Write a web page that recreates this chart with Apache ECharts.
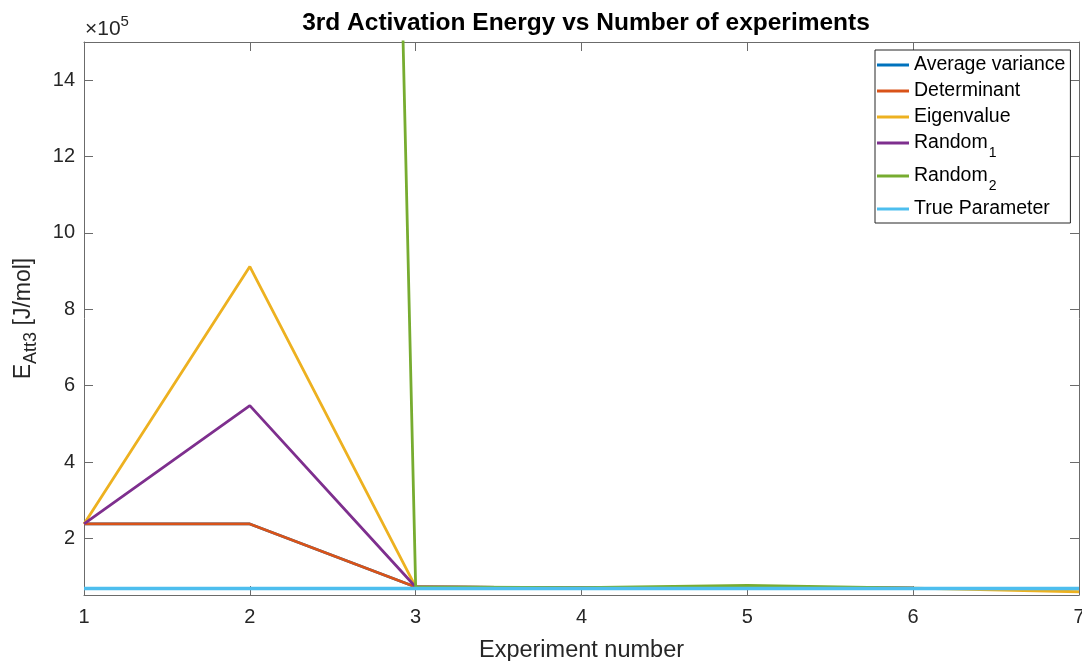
<!DOCTYPE html>
<html>
<head>
<meta charset="utf-8">
<script src="https://cdn.jsdelivr.net/npm/echarts@6/dist/echarts.min.js"></script>
<style>
  html, body { margin: 0; padding: 0; background: #fff; }
  #main { width: 1082px; height: 661px; }
</style>
</head>
<body>
<div id="main"></div>
<script>
// experiment numbers and estimated E_Att3 values [J/mol]
var experiments = [1, 2, 3, 4, 5, 6, 7];
var averageVariance = [238000, 238000, 73000, 70500, 72000, 70000, 69000];
var determinant = [238000, 238000, 73000, 70500, 72000, 70000, 69000];
var eigenvalue = [238000, 912000, 73000, 70500, 72000, 70000, 60500];
var random1 = [238000, 548000, 73000, 70500, 72000, 70000, 69000];
var random2 = [17500000, 18900000, 73000, 71000, 77000, 70000, 69000];
var trueParameter = [69300, 69300, 69300, 69300, 69300, 69300, 69300];
var yTicks = [200000, 400000, 600000, 800000, 1000000, 1200000, 1400000];

var seriesNames = ['Average variance', 'Determinant', 'Eigenvalue', 'Random1', 'Random2', 'True Parameter'];
var seriesData = [averageVariance, determinant, eigenvalue, random1, random2, trueParameter];
var colors = ['#0072BD', '#D95319', '#EDB120', '#7E2F8E', '#77AC30', '#4DBEEE'];

function pairs(arr) {
	return arr.map(function (v, i) { return [experiments[i], v]; });
}

var axisColor = '#6b6b6b';
var textColor = '#262626';
var font = 'Liberation Sans, Arial, sans-serif';

var myChart = echarts.init(document.getElementById('main'));

myChart.setOption({
	animation: false,
	color: colors,
	title: {
		text: '3rd Activation Energy vs Number of experiments',
		left: 581,
		top: 6,
		textAlign: 'center',
		textStyle: { fontFamily: font, fontSize: 24.5, fontWeight: 'bold', color: '#000' }
	},
	grid: { left: 84, right: 3, top: 42, bottom: 66, containLabel: false, outerBoundsMode: 'none' },
	legend: {
		orient: 'vertical',
		left: 875,
		top: 50,
		padding: [5, 5, 4, 2],
		itemGap: 6,
		itemWidth: 32,
		itemHeight: 3,
		icon: 'rect',
		backgroundColor: '#fff',
		borderColor: textColor,
		borderWidth: 1,
		data: seriesNames,
		formatter: function (name) {
			if (name === 'Random1') return '{n|Random}{s|1}';
			if (name === 'Random2') return '{n|Random}{s|2}';
			return '{n|' + name + '}';
		},
		textStyle: {
			fontFamily: font,
			color: '#000',
			rich: {
				n: { fontFamily: font, fontSize: 19.5, color: '#000', lineHeight: 21 },
				s: { fontFamily: font, fontSize: 14, color: '#000', padding: [20, 0, 0, 1] }
			}
		}
	},
	graphic: [{
		type: 'text',
		left: 85,
		top: 14,
		style: {
			text: '{a|×10}{b|5}',
			rich: {
				a: { fontFamily: font, fontSize: 21, fill: textColor, padding: [8, 0, 0, 0] },
				b: { fontFamily: font, fontSize: 15, fill: textColor, padding: [0, 0, 8, 0] }
			}
		}
	}],
	xAxis: [{
		type: 'value',
		min: 1,
		max: 7,
		interval: 1,
		position: 'bottom',
		name: 'Experiment number',
		nameLocation: 'middle',
		nameGap: 44,
		nameTextStyle: { fontFamily: font, fontSize: 23.5, color: textColor },
		axisLine: { show: true, onZero: false, lineStyle: { color: axisColor, width: 1 } },
		axisTick: { show: true, inside: true, length: 9, lineStyle: { color: axisColor } },
		axisLabel: { margin: 12, fontFamily: font, fontSize: 20, color: textColor },
		splitLine: { show: false }
	}, {
		type: 'value',
		min: 1,
		max: 7,
		interval: 1,
		position: 'top',
		axisLine: { show: true, onZero: false, lineStyle: { color: axisColor, width: 1 } },
		axisTick: { show: true, inside: true, length: 9, lineStyle: { color: axisColor } },
		axisLabel: { show: false },
		splitLine: { show: false }
	}],
	yAxis: [{
		type: 'value',
		min: 52000,
		max: 1500000,
		position: 'left',
		name: '{a|E}{b|Att3}{a| [J/mol]}',
		nameLocation: 'middle',
		nameRotate: 90,
		nameGap: 44,
		nameTextStyle: {
			rich: {
				a: { fontFamily: font, fontSize: 23, color: textColor },
				b: { fontFamily: font, fontSize: 18, color: textColor, padding: [14, 0, 0, 0] }
			}
		},
		axisLine: { show: true, onZero: false, lineStyle: { color: axisColor, width: 1 } },
		axisTick: { show: true, inside: true, length: 9, customValues: yTicks, lineStyle: { color: axisColor } },
		axisLabel: {
			margin: 9,
			fontFamily: font,
			fontSize: 20,
			color: textColor,
			customValues: yTicks,
			formatter: function (v) { return String(Math.round(v / 100000)); }
		},
		splitLine: { show: false }
	}, {
		type: 'value',
		min: 52000,
		max: 1500000,
		position: 'right',
		axisLine: { show: true, onZero: false, lineStyle: { color: axisColor, width: 1 } },
		axisTick: { show: true, inside: true, length: 9, customValues: yTicks, lineStyle: { color: axisColor } },
		axisLabel: { show: false },
		splitLine: { show: false }
	}],
	series: seriesNames.map(function (name, i) {
		return {
			name: name,
			type: 'line',
			xAxisIndex: 0,
			yAxisIndex: 0,
			clip: true,
			symbol: 'none',
			data: pairs(seriesData[i]),
			lineStyle: { width: i === 5 ? 3.5 : 2.8, color: colors[i] },
			itemStyle: { color: colors[i] },
			z: 2 + i
		};
	})
});
</script>
</body>
</html>
